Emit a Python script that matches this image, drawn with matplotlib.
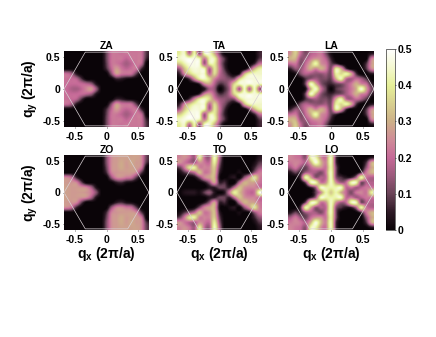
from __future__ import annotations

import matplotlib

matplotlib.use("Agg")
import matplotlib.pyplot as plt
import numpy as np
from matplotlib.colors import LinearSegmentedColormap

FIG_W, FIG_H = 436, 337

# values in units of 0.01, rows run from qy = 0.56 down to qy = -0.56
ZA = [
    [0, 0, 0, 0, 0, 0, 0, 0, 10, 21, 22, 21, 22, 22, 22, 21, 8],
    [0, 0, 0, 0, 0, 0, 0, 0, 10, 21, 22, 22, 19, 22, 22, 21, 6],
    [0, 0, 0, 0, 0, 0, 0, 0, 9, 21, 22, 19, 16, 19, 22, 19, 0],
    [0, 0, 0, 0, 0, 0, 0, 0, 7, 19, 27, 22, 19, 21, 21, 7, 0],
    [20, 16, 4, 0, 0, 0, 0, 0, 0, 13, 27, 22, 21, 20, 9, 0, 0],
    [21, 20, 18, 8, 0, 0, 0, 0, 0, 0, 6, 5, 2, 1, 0, 0, 0],
    [21, 20, 20, 20, 18, 14, 3, 0, 0, 0, 0, 0, 0, 0, 0, 0, 0],
    [20, 17, 16, 19, 24, 27, 14, 0, 0, 0, 0, 0, 0, 0, 0, 0, 0],
    [21, 20, 20, 20, 18, 14, 3, 0, 0, 0, 0, 0, 0, 0, 0, 0, 0],
    [21, 20, 18, 8, 0, 0, 0, 0, 0, 0, 6, 5, 2, 1, 0, 0, 0],
    [20, 16, 4, 0, 0, 0, 0, 0, 0, 13, 27, 22, 21, 20, 9, 0, 0],
    [0, 0, 0, 0, 0, 0, 0, 0, 7, 19, 27, 22, 19, 21, 21, 7, 0],
    [0, 0, 0, 0, 0, 0, 0, 0, 9, 21, 22, 19, 16, 19, 22, 19, 0],
    [0, 0, 0, 0, 0, 0, 0, 0, 10, 21, 22, 22, 19, 22, 22, 21, 6],
    [0, 0, 0, 0, 0, 0, 0, 0, 10, 21, 22, 21, 22, 22, 22, 21, 8],
]
TA = [
    [40, 44, 20, 42, 14, 43, 45, 30, 12, 0, 0, 0, 0, 0, 0, 0, 6],
    [44, 47, 47, 46, 42, 22, 42, 42, 20, 8, 0, 0, 0, 0, 0, 0, 8],
    [34, 42, 47, 47, 45, 16, 40, 40, 20, 6, 0, 0, 0, 0, 0, 6, 20],
    [16, 32, 42, 46, 45, 42, 18, 38, 22, 8, 0, 0, 0, 0, 12, 30, 40],
    [6, 24, 34, 42, 44, 44, 20, 36, 20, 12, 4, 0, 4, 30, 42, 44, 44],
    [0, 0, 8, 25, 40, 44, 36, 24, 16, 14, 12, 14, 34, 44, 46, 46, 46],
    [0, 0, 0, 0, 6, 24, 28, 18, 8, 10, 18, 36, 44, 46, 46, 46, 44],
    [0, 0, 0, 0, 0, 4, 16, 14, 0, 6, 16, 38, 16, 44, 18, 44, 16],
    [0, 0, 0, 0, 6, 24, 28, 18, 8, 10, 18, 36, 44, 46, 46, 46, 44],
    [0, 0, 8, 25, 40, 44, 36, 24, 16, 14, 12, 14, 34, 44, 46, 46, 46],
    [6, 24, 34, 42, 44, 44, 20, 36, 20, 12, 4, 0, 4, 30, 42, 44, 44],
    [16, 32, 42, 46, 45, 42, 18, 38, 22, 8, 0, 0, 0, 0, 12, 30, 40],
    [34, 42, 47, 47, 45, 16, 40, 40, 20, 6, 0, 0, 0, 0, 0, 6, 20],
    [44, 47, 47, 46, 42, 22, 42, 42, 20, 8, 0, 0, 0, 0, 0, 0, 8],
    [40, 44, 20, 42, 14, 43, 45, 30, 12, 0, 0, 0, 0, 0, 0, 0, 6],
]
LA = [
    [26, 34, 20, 12, 18, 20, 22, 12, 2, 0, 0, 0, 0, 0, 0, 0, 4],
    [30, 30, 14, 16, 22, 26, 24, 18, 6, 0, 0, 0, 0, 0, 0, 0, 22],
    [20, 22, 12, 20, 30, 42, 26, 22, 10, 6, 0, 0, 0, 0, 0, 8, 26],
    [6, 14, 14, 22, 30, 24, 30, 24, 12, 40, 30, 8, 0, 0, 0, 8, 24],
    [0, 2, 12, 18, 16, 14, 14, 16, 12, 40, 36, 42, 30, 8, 0, 0, 4],
    [0, 0, 0, 8, 14, 16, 12, 12, 10, 30, 42, 20, 16, 20, 16, 8, 0],
    [0, 0, 0, 12, 44, 30, 14, 8, 6, 10, 12, 16, 22, 30, 24, 20, 6],
    [0, 0, 0, 3, 30, 44, 22, 10, 0, 8, 12, 16, 22, 30, 46, 28, 12],
    [0, 0, 0, 12, 44, 30, 14, 8, 6, 10, 12, 16, 22, 30, 24, 20, 6],
    [0, 0, 0, 8, 14, 16, 12, 12, 10, 30, 42, 20, 16, 20, 16, 8, 0],
    [0, 2, 12, 18, 16, 14, 14, 16, 12, 40, 36, 42, 30, 8, 0, 0, 4],
    [6, 14, 14, 22, 30, 24, 30, 24, 12, 40, 30, 8, 0, 0, 0, 8, 24],
    [20, 22, 12, 20, 30, 42, 26, 22, 10, 6, 0, 0, 0, 0, 0, 8, 26],
    [30, 30, 14, 16, 22, 26, 24, 18, 6, 0, 0, 0, 0, 0, 0, 0, 22],
    [26, 34, 20, 12, 18, 20, 22, 12, 2, 0, 0, 0, 0, 0, 0, 0, 4],
]
ZO = [
    [0, 0, 0, 0, 0, 0, 0, 0, 12, 25, 27, 28, 28, 28, 28, 25, 10],
    [0, 0, 0, 0, 0, 0, 0, 0, 12, 25, 27, 29, 27, 29, 27, 25, 8],
    [0, 0, 0, 0, 0, 0, 0, 0, 10, 25, 27, 29, 27, 28, 27, 22, 0],
    [0, 0, 0, 0, 0, 0, 0, 0, 7, 23, 26, 27, 27, 27, 24, 9, 0],
    [24, 20, 6, 0, 0, 0, 0, 0, 0, 14, 24, 25, 22, 20, 9, 0, 0],
    [27, 26, 24, 10, 0, 0, 0, 0, 0, 0, 5, 7, 3, 2, 0, 0, 0],
    [28, 27, 27, 26, 24, 16, 3, 0, 0, 0, 0, 0, 0, 0, 0, 0, 0],
    [28, 27, 27, 27, 26, 22, 12, 0, 0, 0, 0, 0, 0, 0, 0, 0, 0],
    [28, 27, 27, 26, 24, 16, 3, 0, 0, 0, 0, 0, 0, 0, 0, 0, 0],
    [27, 26, 24, 10, 0, 0, 0, 0, 0, 0, 5, 7, 3, 2, 0, 0, 0],
    [24, 20, 6, 0, 0, 0, 0, 0, 0, 14, 24, 25, 22, 20, 9, 0, 0],
    [0, 0, 0, 0, 0, 0, 0, 0, 7, 23, 26, 27, 27, 27, 24, 9, 0],
    [0, 0, 0, 0, 0, 0, 0, 0, 10, 25, 27, 29, 27, 28, 27, 22, 0],
    [0, 0, 0, 0, 0, 0, 0, 0, 12, 25, 27, 29, 27, 29, 27, 25, 8],
    [0, 0, 0, 0, 0, 0, 0, 0, 12, 25, 27, 28, 28, 28, 28, 25, 10],
]
TO = [
    [24, 26, 22, 16, 40, 20, 16, 44, 18, 0, 0, 0, 0, 0, 0, 0, 4],
    [26, 22, 18, 16, 26, 22, 20, 40, 14, 0, 0, 0, 0, 0, 0, 2, 8],
    [10, 22, 38, 40, 24, 24, 24, 34, 10, 0, 0, 0, 0, 0, 0, 6, 14],
    [2, 8, 14, 20, 32, 22, 24, 32, 6, 0, 0, 0, 2, 0, 2, 14, 22],
    [0, 0, 0, 2, 12, 24, 28, 30, 3, 0, 2, 4, 0, 14, 26, 38, 24],
    [0, 0, 0, 0, 0, 4, 14, 28, 6, 7, 0, 0, 18, 30, 28, 28, 22],
    [0, 0, 0, 0, 0, 0, 4, 5, 10, 10, 6, 20, 32, 26, 24, 24, 22],
    [0, 3, 4, 4, 2, 9, 14, 4, 0, 4, 22, 40, 32, 24, 20, 22, 46],
    [0, 0, 0, 0, 0, 0, 4, 5, 10, 10, 6, 20, 32, 26, 24, 24, 22],
    [0, 0, 0, 0, 0, 4, 14, 28, 6, 7, 0, 0, 18, 30, 28, 28, 22],
    [0, 0, 0, 2, 12, 24, 28, 30, 3, 0, 2, 4, 0, 14, 26, 38, 24],
    [2, 8, 14, 20, 32, 22, 24, 32, 6, 0, 0, 0, 2, 0, 2, 14, 22],
    [10, 22, 38, 40, 24, 24, 24, 34, 10, 0, 0, 0, 0, 0, 0, 6, 14],
    [26, 22, 18, 16, 26, 22, 20, 40, 14, 0, 0, 0, 0, 0, 0, 2, 8],
    [24, 26, 22, 16, 40, 20, 16, 44, 18, 0, 0, 0, 0, 0, 0, 0, 4],
]
LO = [
    [24, 22, 20, 14, 42, 42, 26, 22, 44, 8, 0, 0, 0, 0, 0, 0, 4],
    [22, 24, 22, 18, 30, 46, 32, 24, 44, 8, 0, 0, 0, 0, 0, 8, 28],
    [16, 22, 14, 10, 20, 26, 26, 22, 42, 12, 0, 0, 0, 0, 0, 14, 28],
    [4, 10, 6, 16, 18, 16, 12, 22, 44, 12, 0, 0, 0, 0, 8, 22, 30],
    [0, 0, 8, 42, 30, 14, 18, 20, 44, 14, 8, 4, 6, 18, 42, 22, 18],
    [0, 0, 0, 12, 42, 42, 22, 26, 44, 26, 16, 20, 42, 42, 12, 18, 18],
    [0, 0, 0, 0, 6, 16, 44, 42, 42, 42, 44, 20, 22, 16, 18, 22, 22],
    [0, 0, 0, 0, 0, 10, 24, 42, 34, 42, 30, 20, 12, 22, 24, 22, 40],
    [0, 0, 0, 0, 6, 16, 44, 42, 42, 42, 44, 20, 22, 16, 18, 22, 22],
    [0, 0, 0, 12, 42, 42, 22, 26, 44, 26, 16, 20, 42, 42, 12, 18, 18],
    [0, 0, 8, 42, 30, 14, 18, 20, 44, 14, 8, 4, 6, 18, 42, 22, 18],
    [4, 10, 6, 16, 18, 16, 12, 22, 44, 12, 0, 0, 0, 0, 8, 22, 30],
    [16, 22, 14, 10, 20, 26, 26, 22, 42, 12, 0, 0, 0, 0, 0, 14, 28],
    [22, 24, 22, 18, 30, 46, 32, 24, 44, 8, 0, 0, 0, 0, 0, 8, 28],
    [24, 22, 20, 14, 42, 42, 26, 22, 44, 8, 0, 0, 0, 0, 0, 0, 4],
]

TITLES = ["ZA", "TA", "LA", "ZO", "TO", "LO"]
PANELS = [ZA, TA, LA, ZO, TO, LO]
TICKS = [-0.5, 0, 0.5]
TICK_LABELS = ["-0.5", "0", "0.5"]
CBAR_TICKS = [0, 0.1, 0.2, 0.3, 0.4, 0.5]
CBAR_LABELS = ["0", "0.1", "0.2", "0.3", "0.4", "0.5"]
HEX_X = [2 / 3, 1 / 3, -1 / 3, -2 / 3, -1 / 3, 1 / 3, 2 / 3]
HEX_Y = [0, 0.577, 0.577, 0, -0.577, -0.577, 0]

XLIM = 0.667
YLIM = 0.595
BOLD = "bold"

plt.rcParams["font.family"] = ["Liberation Sans", "DejaVu Sans"]
plt.rcParams["mathtext.fontset"] = "custom"
plt.rcParams["mathtext.bf"] = "Liberation Sans:bold"
plt.rcParams["mathtext.rm"] = "Liberation Sans:bold"

cmap = LinearSegmentedColormap.from_list(
    "phonon",
    [
        (0.0, "#0a0408"),
        (0.1, "#2e1a26"),
        (0.2, "#6a4458"),
        (0.3, "#9c5a7c"),
        (0.4, "#c66a98"),
        (0.5, "#cf8c98"),
        (0.6, "#cdb088"),
        (0.7, "#d8d090"),
        (0.8, "#e6f098"),
        (0.9, "#f4f8d0"),
        (1.0, "#ffffff"),
    ],
)


def px_axes(fig, left, top, right, bottom):
    return fig.add_axes(
        [left / FIG_W, 1 - bottom / FIG_H, (right - left) / FIG_W, (bottom - top) / FIG_H]
    )


def draw_panel(ax, values, title):
    grid = np.array(values) / 100
    image = ax.imshow(
        grid,
        cmap=cmap,
        vmin=0,
        vmax=0.5,
        extent=[-XLIM, XLIM, -YLIM, YLIM],
        aspect="auto",
        interpolation="spline16",
    )
    ax.plot(HEX_X, HEX_Y, color="#d8d0d4", lw=0.5)
    ax.set_xlim(-XLIM, XLIM)
    ax.set_ylim(-YLIM, YLIM)
    ax.set_xticks(TICKS)
    ax.set_xticklabels(TICK_LABELS, fontsize=7.5, fontweight=BOLD)
    ax.set_yticks(TICKS)
    ax.set_yticklabels(TICK_LABELS, fontsize=7.5, fontweight=BOLD)
    ax.tick_params(axis="x", length=1, width=0.4, pad=2.5)
    ax.tick_params(axis="y", length=1, width=0.4, pad=1.5)
    ax.set_title(title, fontsize=7.5, fontweight=BOLD, pad=1.5)
    for spine in ax.spines.values():
        spine.set_visible(False)
    return image


fig = plt.figure(figsize=(FIG_W / 100, FIG_H / 100), dpi=100)
lefts = [64, 177, 288]
rights = [149, 262, 374]
tops = [51, 155]
bottoms = [127, 230]

image = None
for i, (values, title) in enumerate(zip(PANELS, TITLES)):
    row, col = divmod(i, 3)
    ax = px_axes(fig, lefts[col], tops[row], rights[col], bottoms[row])
    image = draw_panel(ax, values, title)
    if col == 0:
        ax.set_ylabel(r"q$_{\mathbf{y}}$ (2π/a)", fontsize=10, fontweight=BOLD, labelpad=2)
    if row == 1:
        ax.set_xlabel(r"q$_{\mathbf{x}}$ (2π/a)", fontsize=10, fontweight=BOLD, labelpad=0)

cax = px_axes(fig, 386, 49, 395, 230)
cbar = fig.colorbar(image, cax=cax)
cbar.set_ticks(CBAR_TICKS)
cbar.set_ticklabels(CBAR_LABELS, fontsize=7.5, fontweight=BOLD)
cbar.ax.tick_params(length=1, width=0.4, pad=1)
cbar.outline.set_linewidth(0.4)

fig.savefig("out.png", dpi=100)
plt.close(fig)
